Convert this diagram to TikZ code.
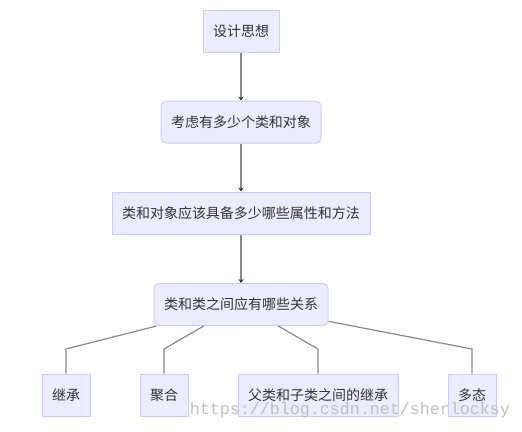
\documentclass[tikz,border=0pt]{standalone}
\usepackage{fontspec}
\newfontfamily\cjk{Noto Sans CJK SC}
\newfontfamily\wmfont{Liberation Mono}
\usepackage{tikz}
\usetikzlibrary{arrows.meta,positioning}

\definecolor{boxfill}{HTML}{ECECFF}
\definecolor{boxline}{HTML}{CCCCFF}
\definecolor{edgegray}{HTML}{888888}
\definecolor{tipdark}{HTML}{333333}
\definecolor{txt}{HTML}{333333}

\tikzset{
  stage/.style={draw=boxline, fill=boxfill, line width=0.75pt, text=txt,
    font=\cjk\fontsize{10.5}{12}\selectfont, inner xsep=7.5pt, inner ysep=0pt,
    minimum height=31.5pt},
  roundstage/.style={stage, rounded corners=3.75pt},
  flow/.style={draw=edgegray, line width=0.9pt,
    -{Stealth[length=3pt, width=3.8pt, color=tipdark]}},
  link/.style={draw=edgegray, line width=0.9pt}
}

\begin{document}
\begin{tikzpicture}[x=0.75pt, y=-0.75pt]
\useasboundingbox (0,0) rectangle (522,432);

% Main chain
\node[stage] (idea) at (241,31) {设计思想};
\node[roundstage] (count) at (241,122) {考虑有多少个类和对象};
\node[stage] (attr) at (241,213) {类和对象应该具备多少哪些属性和方法};
\node[roundstage] (rel) at (241,304.5) {类和类之间应有哪些关系};

\draw[flow] (idea) -- (count);
\draw[flow] (count) -- (attr);
\draw[flow] (attr) -- (rel);

% Relations
\node[stage] (inherit) at (66,395) {继承};
\node[stage] (aggr) at (164,395) {聚合};
\node[stage] (subinh) at (318,395) {父类和子类之间的继承};
\node[stage] (poly) at (472,395) {多态};

\coordinate (b1) at (66,349);
\coordinate (b2) at (164,349);
\coordinate (b3) at (318,349);
\coordinate (b4) at (472,349);

\draw[link] (rel) -- (b1) -- (inherit);
\draw[link] (rel) -- (b2) -- (aggr);
\draw[link] (rel) -- (b3) -- (subinh);
\draw[link] (rel) -- (b4) -- (poly);

% Watermark
\node[font=\wmfont\fontsize{12.5}{14}\selectfont, text=black!25] (mark) at (350,410) {https://blog.csdn.net/sherlocksy};
\end{tikzpicture}
\end{document}
